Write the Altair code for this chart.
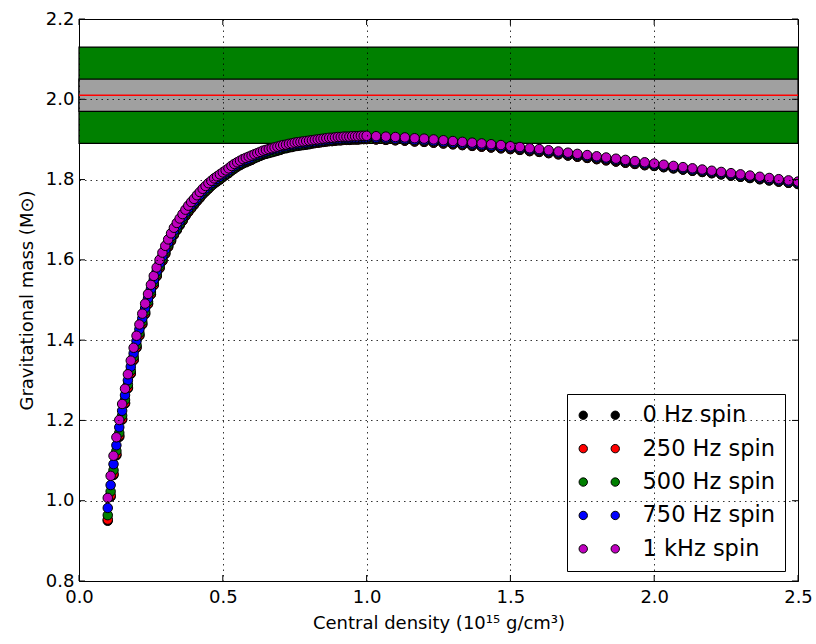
import altair as alt
import pandas as pd

# ---------------- data ----------------
density = [
    0.10, 0.11, 0.12, 0.13, 0.14, 0.15, 0.16, 0.17, 0.18, 0.19,
    0.20, 0.21, 0.22, 0.23, 0.24, 0.25, 0.26, 0.27, 0.28, 0.29,
    0.30, 0.31, 0.32, 0.33, 0.34, 0.35, 0.36, 0.37, 0.38, 0.39,
    0.40, 0.41, 0.42, 0.43, 0.44, 0.45, 0.46, 0.47, 0.48, 0.49,
    0.50, 0.51, 0.52, 0.53, 0.54, 0.55, 0.56, 0.57, 0.58, 0.59,
    0.60, 0.61, 0.62, 0.63, 0.64, 0.65, 0.66, 0.67, 0.68, 0.69,
    0.70, 0.71, 0.72, 0.73, 0.74, 0.75, 0.76, 0.77, 0.78, 0.79,
    0.80, 0.81, 0.82, 0.83, 0.84, 0.85, 0.86, 0.87, 0.88, 0.89,
    0.90, 0.91, 0.92, 0.93, 0.94, 0.95, 0.96, 0.97, 0.98, 0.99,
    1.000, 1.033, 1.067, 1.100, 1.133, 1.167, 1.200, 1.233, 1.267, 1.300,
    1.333, 1.367, 1.400, 1.433, 1.467, 1.500, 1.533, 1.567, 1.600, 1.633,
    1.667, 1.700, 1.733, 1.767, 1.800, 1.833, 1.867, 1.900, 1.933, 1.967,
    2.000, 2.033, 2.067, 2.100, 2.133, 2.167, 2.200, 2.233, 2.267, 2.300,
    2.333, 2.367, 2.400, 2.433, 2.467, 2.500,
]

mass_0hz = [
    0.950, 1.010, 1.064, 1.113, 1.159, 1.202, 1.242, 1.280, 1.316, 1.350,
    1.381, 1.411, 1.439, 1.465, 1.490, 1.514, 1.537, 1.559, 1.579, 1.597,
    1.615, 1.632, 1.647, 1.662, 1.674, 1.686, 1.697, 1.709, 1.719, 1.728,
    1.737, 1.746, 1.754, 1.763, 1.770, 1.777, 1.784, 1.790, 1.795, 1.800,
    1.806, 1.811, 1.816, 1.822, 1.827, 1.832, 1.836, 1.840, 1.843, 1.846,
    1.849, 1.853, 1.856, 1.859, 1.862, 1.864, 1.866, 1.868, 1.870, 1.872,
    1.874, 1.877, 1.878, 1.880, 1.881, 1.883, 1.884, 1.885, 1.886, 1.887,
    1.888, 1.890, 1.891, 1.892, 1.893, 1.894, 1.895, 1.896, 1.896, 1.897,
    1.898, 1.898, 1.899, 1.899, 1.899, 1.900, 1.900, 1.900, 1.901, 1.901,
    1.901, 1.900, 1.899, 1.898, 1.897, 1.895, 1.894, 1.892, 1.890, 1.888,
    1.886, 1.884, 1.882, 1.880, 1.878, 1.876, 1.874, 1.871, 1.869, 1.866,
    1.863, 1.860, 1.857, 1.854, 1.851, 1.848, 1.845, 1.842, 1.839, 1.836,
    1.834, 1.831, 1.828, 1.825, 1.822, 1.819, 1.816, 1.813, 1.810, 1.807,
    1.804, 1.801, 1.798, 1.795, 1.792, 1.789,
]

mass_250hz = [
    0.953, 1.013, 1.067, 1.116, 1.162, 1.204, 1.244, 1.282, 1.318, 1.352,
    1.383, 1.413, 1.441, 1.467, 1.491, 1.515, 1.538, 1.560, 1.580, 1.598,
    1.616, 1.633, 1.648, 1.663, 1.675, 1.687, 1.698, 1.710, 1.720, 1.729,
    1.738, 1.747, 1.755, 1.764, 1.771, 1.778, 1.785, 1.791, 1.796, 1.801,
    1.807, 1.812, 1.817, 1.823, 1.828, 1.833, 1.837, 1.841, 1.844, 1.847,
    1.850, 1.854, 1.857, 1.860, 1.863, 1.865, 1.867, 1.869, 1.871, 1.873,
    1.875, 1.878, 1.879, 1.881, 1.882, 1.884, 1.885, 1.886, 1.887, 1.888,
    1.889, 1.890, 1.891, 1.892, 1.893, 1.894, 1.895, 1.896, 1.896, 1.897,
    1.898, 1.898, 1.899, 1.899, 1.899, 1.900, 1.900, 1.900, 1.901, 1.901,
    1.901, 1.900, 1.899, 1.898, 1.897, 1.895, 1.894, 1.892, 1.890, 1.888,
    1.886, 1.884, 1.882, 1.880, 1.878, 1.876, 1.874, 1.871, 1.869, 1.866,
    1.863, 1.860, 1.857, 1.854, 1.851, 1.848, 1.845, 1.842, 1.839, 1.836,
    1.834, 1.831, 1.828, 1.825, 1.822, 1.819, 1.816, 1.813, 1.810, 1.807,
    1.804, 1.801, 1.798, 1.795, 1.792, 1.789,
]

mass_500hz = [
    0.964, 1.023, 1.076, 1.124, 1.169, 1.212, 1.251, 1.289, 1.324, 1.358,
    1.388, 1.418, 1.446, 1.471, 1.496, 1.520, 1.543, 1.564, 1.584, 1.602,
    1.620, 1.637, 1.652, 1.666, 1.678, 1.690, 1.701, 1.713, 1.723, 1.732,
    1.741, 1.750, 1.758, 1.766, 1.773, 1.780, 1.787, 1.793, 1.798, 1.803,
    1.809, 1.814, 1.819, 1.825, 1.830, 1.835, 1.839, 1.843, 1.846, 1.849,
    1.852, 1.855, 1.858, 1.861, 1.864, 1.866, 1.868, 1.870, 1.872, 1.874,
    1.876, 1.879, 1.880, 1.882, 1.883, 1.885, 1.886, 1.887, 1.888, 1.889,
    1.890, 1.892, 1.893, 1.894, 1.895, 1.896, 1.897, 1.898, 1.898, 1.899,
    1.900, 1.900, 1.901, 1.901, 1.901, 1.902, 1.902, 1.902, 1.903, 1.903,
    1.903, 1.902, 1.901, 1.900, 1.899, 1.897, 1.896, 1.894, 1.892, 1.890,
    1.888, 1.886, 1.884, 1.882, 1.880, 1.878, 1.876, 1.873, 1.871, 1.868,
    1.865, 1.862, 1.859, 1.856, 1.853, 1.850, 1.847, 1.844, 1.841, 1.838,
    1.835, 1.832, 1.829, 1.826, 1.823, 1.820, 1.817, 1.814, 1.811, 1.808,
    1.805, 1.802, 1.799, 1.796, 1.793, 1.790,
]

mass_750hz = [
    0.982, 1.039, 1.091, 1.138, 1.183, 1.224, 1.263, 1.300, 1.334, 1.367,
    1.398, 1.427, 1.454, 1.480, 1.504, 1.527, 1.550, 1.571, 1.591, 1.609,
    1.626, 1.643, 1.658, 1.672, 1.684, 1.696, 1.707, 1.718, 1.728, 1.737,
    1.745, 1.754, 1.762, 1.771, 1.778, 1.785, 1.791, 1.797, 1.802, 1.807,
    1.813, 1.818, 1.823, 1.829, 1.834, 1.838, 1.842, 1.846, 1.849, 1.852,
    1.855, 1.859, 1.862, 1.865, 1.868, 1.870, 1.872, 1.874, 1.876, 1.878,
    1.880, 1.882, 1.883, 1.885, 1.886, 1.888, 1.889, 1.890, 1.891, 1.892,
    1.893, 1.894, 1.895, 1.896, 1.897, 1.898, 1.899, 1.900, 1.900, 1.901,
    1.902, 1.902, 1.903, 1.903, 1.903, 1.904, 1.904, 1.904, 1.905, 1.905,
    1.905, 1.904, 1.903, 1.902, 1.901, 1.899, 1.898, 1.896, 1.894, 1.892,
    1.890, 1.888, 1.886, 1.884, 1.882, 1.880, 1.878, 1.875, 1.873, 1.870,
    1.867, 1.864, 1.861, 1.858, 1.855, 1.852, 1.849, 1.846, 1.843, 1.840,
    1.837, 1.834, 1.831, 1.828, 1.825, 1.822, 1.819, 1.816, 1.813, 1.810,
    1.807, 1.804, 1.801, 1.798, 1.795, 1.792,
]

mass_1khz = [
    1.007, 1.062, 1.112, 1.158, 1.201, 1.241, 1.279, 1.315, 1.349, 1.381,
    1.411, 1.439, 1.466, 1.491, 1.515, 1.538, 1.560, 1.581, 1.600, 1.618,
    1.635, 1.651, 1.666, 1.680, 1.692, 1.703, 1.714, 1.725, 1.735, 1.744,
    1.752, 1.761, 1.769, 1.777, 1.784, 1.791, 1.797, 1.803, 1.808, 1.813,
    1.818, 1.823, 1.828, 1.834, 1.839, 1.843, 1.847, 1.851, 1.854, 1.857,
    1.860, 1.863, 1.866, 1.869, 1.872, 1.874, 1.876, 1.878, 1.880, 1.882,
    1.884, 1.886, 1.887, 1.889, 1.890, 1.892, 1.893, 1.894, 1.895, 1.896,
    1.897, 1.898, 1.899, 1.900, 1.901, 1.902, 1.903, 1.904, 1.904, 1.905,
    1.906, 1.906, 1.907, 1.907, 1.907, 1.908, 1.908, 1.908, 1.909, 1.909,
    1.909, 1.908, 1.907, 1.906, 1.905, 1.903, 1.902, 1.900, 1.898, 1.896,
    1.894, 1.892, 1.890, 1.888, 1.886, 1.883, 1.881, 1.878, 1.876, 1.873,
    1.870, 1.867, 1.864, 1.861, 1.858, 1.855, 1.852, 1.849, 1.846, 1.843,
    1.840, 1.837, 1.834, 1.831, 1.828, 1.825, 1.822, 1.819, 1.816, 1.813,
    1.810, 1.807, 1.804, 1.801, 1.798, 1.795,
]

series_names = ["0 Hz spin", "250 Hz spin", "500 Hz spin", "750 Hz spin", "1 kHz spin"]
series_colors = ["#000000", "#ff0000", "#008000", "#0000ff", "#bf00bf"]

x_ticks = [0.0, 0.5, 1.0, 1.5, 2.0, 2.5]
y_ticks = [0.8, 1.0, 1.2, 1.4, 1.6, 1.8, 2.0, 2.2]

outer_band = [1.89, 2.13]   # green
inner_band = [1.97, 2.05]   # gray
central_mass = 2.01         # red line

# ---------------- build tables ----------------
rows = []
for name, ys in zip(series_names, [mass_0hz, mass_250hz, mass_500hz, mass_750hz, mass_1khz]):
    for xv, yv in zip(density, ys):
        rows.append({"density": xv, "mass": yv, "series": name})
df = pd.DataFrame(rows)

band_df = pd.DataFrame({
    "lo": [outer_band[0], inner_band[0]],
    "hi": [outer_band[1], inner_band[1]],
    "band": ["outer", "inner"],
    "x0": [x_ticks[0], x_ticks[0]],
    "x1": [x_ticks[-1], x_ticks[-1]],
})
xt_df = pd.DataFrame({"v": x_ticks})
yt_df = pd.DataFrame({"v": y_ticks})

W, H = 719, 562
FONT = "DejaVu Sans"
X_TITLE = "Central density (10¹⁵ g/cm³)"
Y_TITLE = "Gravitational mass (M⊙)"

xs = alt.Scale(domain=[x_ticks[0], x_ticks[-1]], nice=False, zero=False)
ys = alt.Scale(domain=[y_ticks[0], y_ticks[-1]], nice=False, zero=False)

common_axis = dict(
    format=".1f", labelFont=FONT, labelFontSize=18, labelColor="black",
    ticks=False, domain=False, grid=True, gridColor="black", gridDash=[1.5, 4],
    gridWidth=0.8, gridOpacity=1, titleFont=FONT, titleFontSize=18,
    titleFontWeight="normal", titleColor="black", zindex=1,
    labelFlush=False, labelOverlap=False,
)
x_axis = alt.Axis(values=x_ticks, labelPadding=7, titlePadding=8, **common_axis)
y_axis = alt.Axis(values=y_ticks, labelPadding=5, titlePadding=9, **common_axis)


def X(field):
    return alt.X(field, scale=xs, axis=x_axis, title=X_TITLE)


def Y(field):
    return alt.Y(field, scale=ys, axis=y_axis, title=Y_TITLE)


outer = alt.Chart(band_df).transform_filter(alt.datum.band == "outer").mark_rect(
    fill="#008000", stroke="black", strokeWidth=1.2
).encode(x=X("x0:Q"), x2="x1:Q", y=Y("lo:Q"), y2="hi:Q")

inner = alt.Chart(band_df).transform_filter(alt.datum.band == "inner").mark_rect(
    fill="#a0a0a0", stroke="black", strokeWidth=1.2
).encode(x=X("x0:Q"), x2="x1:Q", y=Y("lo:Q"), y2="hi:Q")

red = alt.Chart(pd.DataFrame({"m": [central_mass]})).mark_rule(
    color="#ff0000", strokeWidth=1.4
).encode(y=Y("m:Q"))

TWO_DOTS = ("M -5.05,0 A 1.05,1.05 0 1,0 -2.95,0 A 1.05,1.05 0 1,0 -5.05,0 Z "
            "M 2.95,0 A 1.05,1.05 0 1,0 5.05,0 A 1.05,1.05 0 1,0 2.95,0 Z")

points = alt.Chart(df).mark_point(
    filled=True, shape="circle", size=90, stroke="black", strokeWidth=1,
    opacity=1, fillOpacity=1, clip=True
).encode(
    x=X("density:Q"),
    y=Y("mass:Q"),
    fill=alt.Fill(
        "series:N",
        scale=alt.Scale(domain=series_names, range=series_colors),
        sort=series_names,
        legend=alt.Legend(
            title=None, orient="none", legendX=488, legendY=375,
            symbolType=TWO_DOTS, symbolSize=64, symbolStrokeColor="black",
            symbolStrokeWidth=1, symbolOffset=11, symbolOpacity=1,
            labelOffset=32, labelFont=FONT, labelFontSize=22.5, labelColor="black",
            labelLimit=500, padding=10, rowPadding=10.4,
            fillColor="white", strokeColor="black", cornerRadius=0,
        ),
    ),
)

ticks_left = alt.Chart(yt_df).mark_rule(color="black", strokeWidth=1).encode(
    y=Y("v:Q"), x=alt.value(0), x2=alt.value(6))
ticks_right = alt.Chart(yt_df).mark_rule(color="black", strokeWidth=1).encode(
    y=Y("v:Q"), x=alt.value(W - 6), x2=alt.value(W))
ticks_bottom = alt.Chart(xt_df).mark_rule(color="black", strokeWidth=1).encode(
    x=X("v:Q"), y=alt.value(H - 6), y2=alt.value(H))
ticks_top = alt.Chart(xt_df).mark_rule(color="black", strokeWidth=1).encode(
    x=X("v:Q"), y=alt.value(0), y2=alt.value(6))

chart = alt.layer(
    outer, inner, red, points, ticks_left, ticks_right, ticks_bottom, ticks_top
).properties(
    width=W, height=H,
    autosize=alt.AutoSizeParams(type="none"),
    padding={"left": 79, "top": 19, "right": 18, "bottom": 63},
    background="white",
).configure_view(
    stroke="black", strokeWidth=1
).configure_legend(
    strokeWidth=1
)

chart.save("out.html", embed_options={"renderer": "svg", "actions": False})
